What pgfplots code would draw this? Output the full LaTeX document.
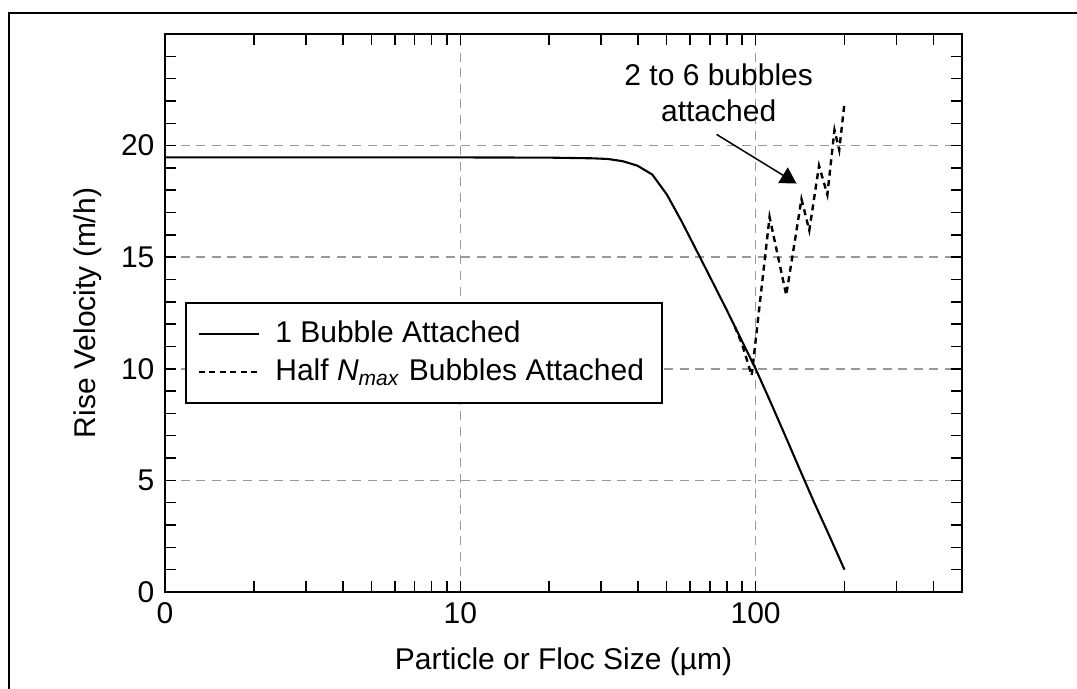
\documentclass[border=0pt]{standalone}
\usepackage{fontspec}
\setmainfont{Liberation Sans}
\usepackage{pgfplots}
\pgfplotsset{compat=1.18}
\usetikzlibrary{arrows.meta}

\begin{document}
\begin{tikzpicture}
% picture box: 1 px of the reference = 1/3 pt
\useasboundingbox (-55pt,-32.33pt) rectangle (304pt,197.33pt);
\draw[line width=0.8pt] (-52pt,-40pt) -- (-52pt,193pt) -- (310pt,193pt);
\begin{axis}[
  at={(0,0)}, anchor=south west,
  scale only axis,
  width=265.67pt, height=186pt,
  xmode=log,
  xmin=1, xmax=500, ymin=0, ymax=25,
  xtick={1,10,100}, xticklabels={0,10,100},
  minor xtick={2,3,4,5,6,7,8,9,20,30,40,50,60,70,80,90,200,300,400},
  ytick={0,5,10,15,20}, yticklabels={0,5,10,15,20},
  minor ytick={1,2,3,4,6,7,8,9,11,12,13,14,16,17,18,19,21,22,23,24},
  grid=major,
  major grid style={gray!80, line width=0.5pt, dash pattern=on 3pt off 2.2pt},
  axis line style={line width=0.7pt},
  tick style={black, line width=0.5pt},
  major tick length=3.67pt, minor tick length=3.67pt,
  xlabel={Particle or Floc Size (µm)},
  ylabel={Rise Velocity (m/h)},
  xlabel style={at={(axis description cs:0.5,-0.1254)}, anchor=center},
  ylabel style={at={(axis description cs:-0.0966,0.5)}, anchor=center},
  legend style={at={(axis description cs:0.025,0.52)}, anchor=north west,
    draw=black, line width=0.7pt, inner xsep=4pt, inner ysep=4pt,
    row sep=0pt, column sep=3.3pt},
  legend cell align=left,
  legend image code/.code={\draw[#1, line width=0.5pt] (0pt,0pt) -- (20pt,0pt);},
]
\addplot[black, line width=0.7pt] coordinates {
 (1,19.47) (5,19.47) (10,19.47) (20,19.46) (28,19.43) (31.6,19.40) (35.5,19.3)
 (39.8,19.1) (44.7,18.7) (50.1,17.8) (56.2,16.6) (63.1,15.3) (70.8,14.0)
 (79.4,12.7) (89.1,11.35) (100,10.0) (112,8.55) (126,7.0) (141,5.5)
 (158,4.0) (178,2.5) (200,1.0)
};
\addlegendentry{1 Bubble Attached}
\addplot[black, line width=0.8pt, dash pattern=on 2pt off 1.5pt] coordinates {
 (85,11.9) (90,11.1) (97,9.7) (111.5,16.8) (127,13.3) (143,17.6) (152,16.2)
 (164,19.1) (175,17.8) (185,20.7) (192,19.8) (200,21.9)
};
\addlegendentry{Half \textit{N}\textsubscript{\textit{max}} Bubbles Attached}
\node[align=center] at (axis cs:75,22.35) {2 to 6 bubbles\\attached};
\draw[line width=0.5pt, -{Triangle[width=6pt,length=5.3pt]}]
  (axis cs:73.8,20.5) -- (axis cs:137.6,18.3);
\end{axis}
\end{tikzpicture}
\end{document}
